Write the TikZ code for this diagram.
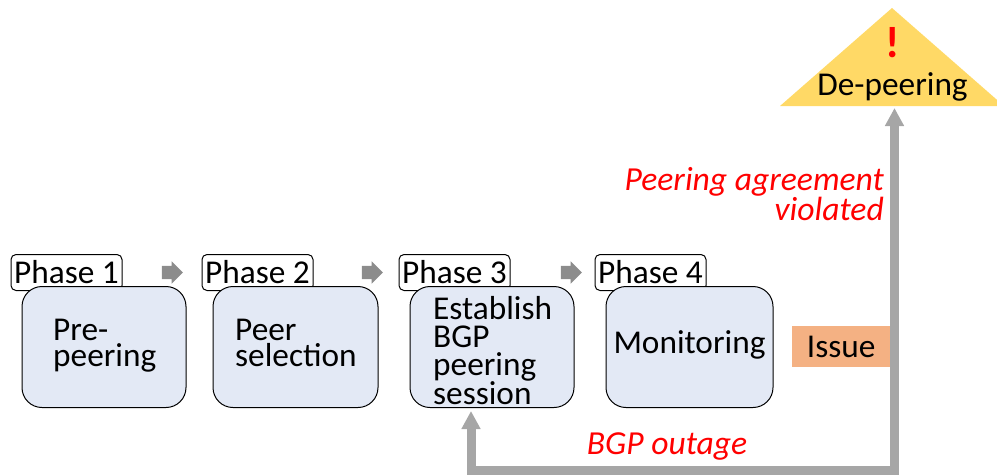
\documentclass[tikz,border=0pt]{standalone}
\usepackage{fontspec}
\setmainfont{Carlito}
\usetikzlibrary{arrows.meta,shapes.arrows,shapes.geometric,calc}
\definecolor{boxfill}{HTML}{E3E9F5}
\definecolor{triangfill}{HTML}{FFD966}
\definecolor{issuefill}{HTML}{F4B183}
\definecolor{flowgray}{HTML}{A6A6A6}
\definecolor{stepgray}{HTML}{8C8C8C}
\tikzset{
  x=1pt,y=-1pt,
  txt/.style={font=\fontsize{33.3}{25.5}\selectfont,text=black,inner sep=0pt},
  phasebox/.style={draw=black,line width=1pt,rounded corners=5pt,fill=white,minimum width=111pt,minimum height=36pt,inner sep=0pt,anchor=north west,font=\fontsize{33.3}{33}\selectfont},
  stagebox/.style={draw=black,line width=1pt,rounded corners=20pt,fill=boxfill,minimum height=121pt,inner sep=0pt,anchor=north west},
  stagetext/.style={txt,align=left,anchor=north west},
  redlabel/.style={font=\fontsize{33.6}{28}\selectfont\itshape,text=red,inner sep=0pt},
  hop/.style={single arrow,fill=stepgray,draw=none,minimum width=22pt,minimum height=21pt,single arrow head extend=4.5pt,single arrow tip angle=90,inner sep=6.5pt},
  flow/.style={draw=flowgray,line width=9pt},
}
\begin{document}
\begin{tikzpicture}
\useasboundingbox (0,0) rectangle (997,475);
% phase labels
\node[phasebox] (p1) at (10.5,254) {Phase 1};
\node[phasebox] (p2) at (201.5,254) {Phase 2};
\node[phasebox] (p3) at (398.5,254) {Phase 3};
\node[phasebox] (p4) at (594.5,254) {Phase 4};
% stage boxes
\node[stagebox,minimum width=164pt] (b1) at (21.5,286) {};
\node[stagebox,minimum width=165pt] (b2) at (212.5,286) {};
\node[stagebox,minimum width=164pt] (b3) at (409.5,286) {};
\node[stagebox,minimum width=167pt] (b4) at (605.5,286) {};
\node[stagetext] (t1) at (53,319) {Pre-\\peering};
\node[stagetext] (t2) at (235,319) {Peer\\selection};
\node[stagetext,font=\fontsize{33.3}{28}\selectfont] (t3) at (433,296) {Establish\\BGP\\peering\\session};
\node[txt,anchor=base] (t4) at (689.5,353) {Monitoring};
% hops
\node[hop] (h1) at (169,272.5) {};
\node[hop] (h2) at (369,272.5) {};
\node[hop] (h3) at (568,272.5) {};
% issue
\node[fill=issuefill,minimum width=98pt,minimum height=41pt,inner sep=0pt,anchor=north west,txt] (issue) at (792,326) {Issue};
% triangle
\fill[triangfill] (780,106) -- (892,8) -- (1004,106) -- cycle;
\coordinate (apex) at (892,8);
\node[font=\fontsize{44}{44}\selectfont\bfseries,text=red,inner sep=0pt,anchor=base] (bang) at (893,57) {!};
\node[txt,anchor=base] (dep) at (892.5,95) {De-peering};
% flow
\coordinate (cr) at (894.5,470.5);
\coordinate (cl) at (471,470.5);
\coordinate (tipa) at (894.5,108);
\coordinate (tipb) at (471,411);
\draw[flow,{Triangle[width=18pt,length=18pt]}-{Triangle[width=18pt,length=18pt]},line join=miter] (tipa) -- (cr) -- (cl) -- (tipb);
% red labels
\node[redlabel,align=right,anchor=north east] (pa) at (884,167) {Peering agreement\\violated};
\node[redlabel,anchor=base] (bo) at (667,454) {BGP outage};
\end{tikzpicture}
\end{document}
